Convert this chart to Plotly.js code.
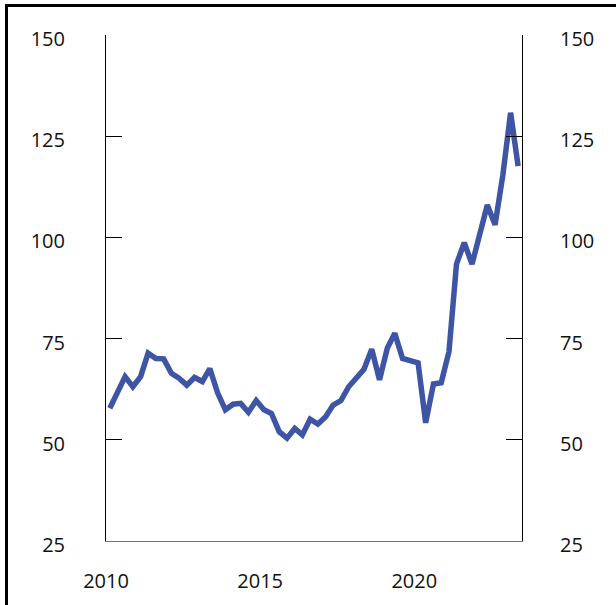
<!DOCTYPE html>
<html>
<head>
<meta charset="utf-8">
<script src="https://cdn.plot.ly/plotly-3.0.1.min.js"></script>
<style>
  html, body { margin: 0; padding: 0; background: #fff; }
  #wrap { position: relative; width: 616px; height: 605px; overflow: hidden; }
  #chart { position: absolute; left: 0; top: 0; width: 616px; height: 605px; }
  #frame { position: absolute; left: 5px; top: 4px; width: 700px; height: 700px;
           border-left: 3px solid #000; border-top: 3px solid #000; pointer-events: none; }
</style>
</head>
<body>
<div id="wrap">
  <div id="chart"></div>
  <div id="frame"></div>
</div>
<script>
// Quarterly observations (mid-quarter dates)
const dates = [
  '2010-02-15','2010-05-15','2010-08-15','2010-11-15',
  '2011-02-15','2011-05-15','2011-08-15','2011-11-15',
  '2012-02-15','2012-05-15','2012-08-15','2012-11-15',
  '2013-02-15','2013-05-15','2013-08-15','2013-11-15',
  '2014-02-15','2014-05-15','2014-08-15','2014-11-15',
  '2015-02-15','2015-05-15','2015-08-15','2015-11-15',
  '2016-02-15','2016-05-15','2016-08-15','2016-11-15',
  '2017-02-15','2017-05-15','2017-08-15','2017-11-15',
  '2018-02-15','2018-05-15','2018-08-15','2018-11-15',
  '2019-02-15','2019-05-15','2019-08-15','2019-11-15',
  '2020-02-15','2020-05-15','2020-08-15','2020-11-15',
  '2021-02-15','2021-05-15','2021-08-15','2021-11-15',
  '2022-02-15','2022-05-15','2022-08-15','2022-11-15',
  '2023-02-15','2023-05-15'
];
const values = [
  57.8, 61.6, 65.6, 63.1,
  65.6, 71.4, 70.1, 70.0,
  66.4, 65.2, 63.5, 65.4,
  64.4, 67.6, 61.6, 57.4,
  58.8, 59.0, 56.8, 59.7,
  57.4, 56.5, 52.0, 50.4,
  52.8, 51.2, 55.1, 53.9,
  55.7, 58.6, 59.7, 63.1,
  65.2, 67.4, 72.4, 64.8,
  72.6, 76.3, 70.1, 69.5,
  69.0, 54.2, 63.8, 64.1,
  71.8, 93.4, 98.7, 93.4,
  101.0, 108.0, 103.1, 115.4,
  130.8, 117.6
];
const yTicks = [25, 50, 75, 100, 125, 150];
const xTickVals = ['2010-01-01', '2015-01-01', '2020-01-01'];
const xTickText = ['2010', '2015', '2020'];

const font = { family: 'Open Sans, Noto Sans, sans-serif', size: 20, color: '#111' };

const yCommon = {
  range: [25, 150],
  tickvals: yTicks,
  ticktext: yTicks.map(String),
  ticks: 'inside',
  ticklen: 16,
  tickwidth: 1,
  tickcolor: '#000',
  showline: true,
  linecolor: '#000',
  linewidth: 1,
  showgrid: false,
  zeroline: false,
  ticklabelshift: 4,
  tickfont: font,
  fixedrange: true
};

const traces = [
  {
    x: dates, y: values, type: 'scatter', mode: 'lines',
    line: { color: '#3E55A5', width: 5.5 },
    hoverinfo: 'skip', showlegend: false
  },
  {
    x: dates, y: values, type: 'scatter', mode: 'lines', yaxis: 'y2',
    line: { color: 'rgba(0,0,0,0)', width: 0 },
    hoverinfo: 'skip', showlegend: false
  }
];

const layout = {
  width: 616, height: 605,
  margin: { l: 106, r: 94, t: 35, b: 64 },
  paper_bgcolor: '#fff', plot_bgcolor: '#fff',
  font: font,
  showlegend: false,
  xaxis: {
    type: 'date',
    range: ['2010-01-01', '2023-06-30'],
    tickvals: xTickVals,
    ticktext: xTickText,
    ticks: '',
    showline: true,
    linecolor: '#777',
    linewidth: 1,
    showgrid: false,
    zeroline: false,
    ticklabelstandoff: 22,
    tickfont: font,
    fixedrange: true
  },
  yaxis: Object.assign({}, yCommon, { side: 'left', ticklabelstandoff: 36 }),
  yaxis2: Object.assign({}, yCommon, { side: 'right', overlaying: 'y', anchor: 'x', ticklabelstandoff: 33 })
};

Plotly.newPlot('chart', traces, layout, { displayModeBar: false, staticPlot: true });
</script>
</body>
</html>
